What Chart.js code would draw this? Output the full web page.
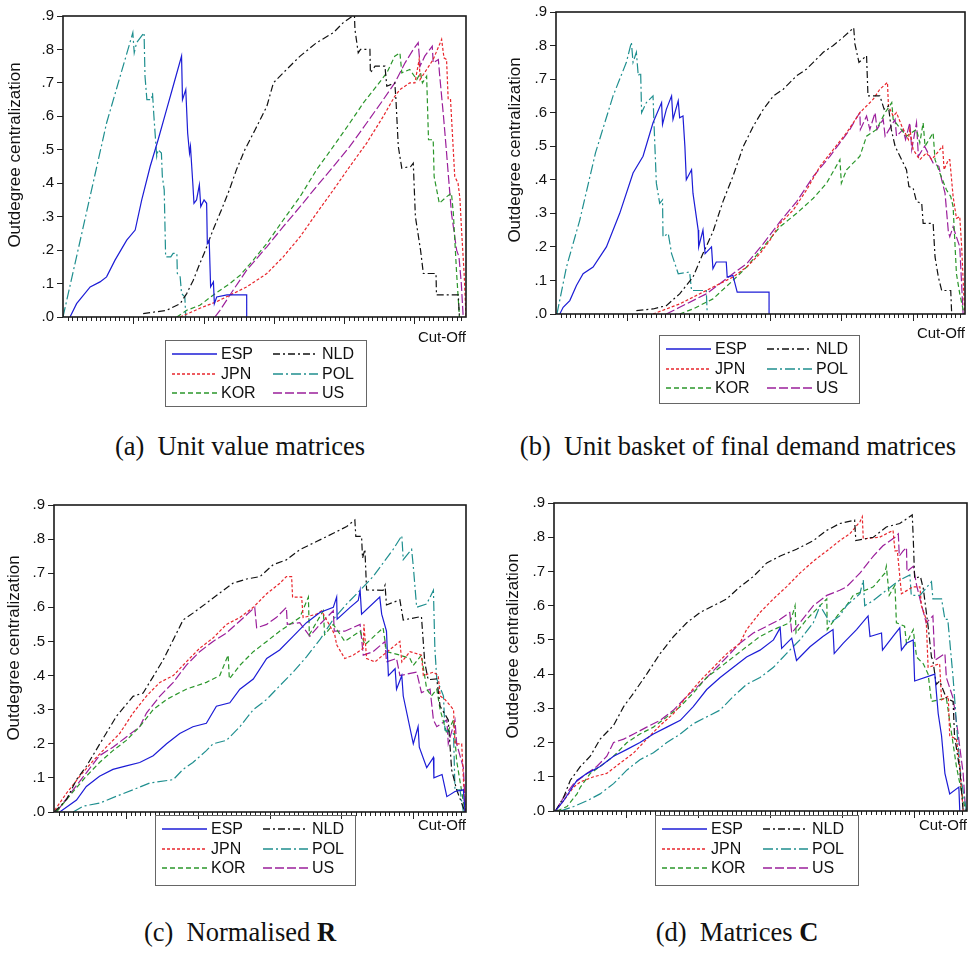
<!DOCTYPE html>
<html>
<head>
<meta charset="utf-8">
<script src="https://cdn.jsdelivr.net/npm/chart.js@4.4.1/dist/chart.umd.min.js"></script>
<style>
  body { margin: 0; background: #fff; width: 968px; height: 962px; position: relative; overflow: hidden; }
  .panel { position: absolute; width: 484px; height: 420px; }
  .cap { position: absolute; text-align: center; font-family: "Liberation Serif", "Times New Roman", serif; font-size: 26.5px; color: #111; white-space: nowrap; }
</style>
</head>
<body>
<div class="panel" style="left:0;top:0"><canvas id="chartA" width="484" height="420"></canvas></div>
<div class="panel" style="left:484px;top:0"><canvas id="chartB" width="484" height="420"></canvas></div>
<div class="panel" style="left:0;top:480px"><canvas id="chartC" width="484" height="420"></canvas></div>
<div class="panel" style="left:484px;top:480px"><canvas id="chartD" width="484" height="420"></canvas></div>

<div class="cap" style="left:0;width:480px;top:431px">(a)&nbsp; Unit value matrices</div>
<div class="cap" style="left:496px;width:484px;top:431px">(b)&nbsp; Unit basket of final demand matrices</div>
<div class="cap" style="left:0;width:480px;top:917px">(c)&nbsp; Normalised <b>R</b></div>
<div class="cap" style="left:495px;width:484px;top:917px">(d)&nbsp; Matrices <b>C</b></div>

<script>
// countries, in legend order (row by row, two columns)
const countries = ['ESP', 'NLD', 'JPN', 'POL', 'KOR', 'US'];
const yTicks = [0, 0.1, 0.2, 0.3, 0.4, 0.5, 0.6, 0.7, 0.8, 0.9];
const xMax = 86;
const xTicks = [];
for (let i = 1; i < xMax; i++) xTicks.push(i);
const majorTicks = [15, 30, 45, 60, 75];

// (a) unit value matrices  -- [cut-off, centralization]
const espA = [[1.5,0],[2.9,0.04],[5.8,0.09],[7.9,0.105],[9.3,0.12],[11.1,0.17],[13.6,0.23],[15.4,0.26],[16.8,0.35],[18.6,0.45],[20.3,0.53],[22.1,0.62],[23.5,0.69],[25.3,0.78],[25.5,0.65],[26.2,0.68],[26.6,0.55],[27.0,0.49],[27.2,0.51],[27.7,0.40],[27.95,0.34],[28.5,0.35],[29.1,0.395],[29.4,0.33],[30.1,0.35],[30.65,0.34],[30.8,0.22],[31.2,0.23],[31.5,0.09],[32.1,0.105],[32.3,0.04],[32.8,0.06],[35.0,0.066],[39.2,0.066],[39.2,0]];
const nldA = [[17.1,0.01],[22.1,0.02],[25.0,0.04],[26.4,0.07],[27.8,0.11],[29.2,0.16],[30.4,0.20],[32.0,0.26],[33.8,0.32],[35.5,0.38],[37.0,0.44],[38.8,0.50],[41.0,0.56],[43.5,0.63],[44.9,0.70],[47.7,0.74],[50.6,0.78],[54.1,0.82],[57.7,0.85],[59.8,0.88],[61.8,0.90],[62.2,0.90],[62.3,0.86],[63.0,0.79],[63.5,0.80],[65.5,0.80],[65.6,0.73],[66.6,0.75],[68.7,0.75],[69.1,0.69],[70.8,0.70],[71.05,0.65],[71.55,0.51],[72.3,0.445],[74.2,0.45],[74.75,0.46],[75.2,0.30],[76.3,0.20],[76.9,0.13],[79.6,0.13],[79.7,0.066],[84.35,0.066],[84.6,0]];
const jpnA = [[25.0,0],[29.2,0.026],[32.8,0.046],[36.3,0.07],[39.2,0.09],[43.5,0.13],[47.0,0.18],[50.6,0.24],[54.1,0.31],[57.7,0.38],[61.2,0.45],[64.8,0.52],[68.35,0.60],[70.8,0.66],[71.9,0.68],[74.0,0.70],[75.1,0.70],[76.0,0.77],[76.2,0.71],[77.6,0.74],[79.0,0.77],[80.8,0.83],[81.3,0.775],[81.85,0.77],[82.2,0.65],[82.7,0.65],[83.6,0.42],[84.3,0.40],[84.7,0.355],[85.05,0.26],[85.6,0.13],[86.0,0]];
const polA = [[0,0],[9.3,0.58],[14.9,0.85],[15.2,0.79],[15.7,0.82],[17.3,0.85],[17.5,0.72],[17.9,0.65],[18.9,0.65],[19.1,0.67],[19.4,0.60],[20.0,0.48],[20.3,0.50],[21.0,0.49],[21.2,0.42],[21.6,0.38],[21.9,0.18],[23.0,0.18],[23.5,0.19],[24.3,0.19],[24.4,0.13],[25.0,0.12],[25.3,0.07],[26.0,0.06],[26.2,0]];
const korA = [[24.3,0],[26.4,0.02],[29.2,0.035],[32.1,0.066],[35.6,0.1],[37.8,0.125],[40.6,0.17],[43.5,0.22],[47.0,0.29],[50.6,0.36],[54.1,0.44],[57.7,0.51],[61.2,0.58],[64.1,0.64],[66.9,0.69],[69.1,0.73],[70.8,0.78],[71.9,0.79],[72.3,0.73],[74.0,0.74],[75.5,0.71],[76.3,0.73],[76.7,0.70],[77.6,0.72],[78.0,0.53],[79.0,0.53],[79.2,0.42],[80.3,0.34],[81.9,0.36],[82.9,0.37],[83.3,0.31],[84.0,0.13],[84.6,0]];
const usA = [[32.4,0],[33.5,0.02],[36.3,0.08],[39.2,0.14],[43.5,0.21],[47.0,0.27],[50.6,0.33],[54.1,0.39],[57.7,0.45],[61.2,0.51],[64.8,0.58],[68.35,0.65],[70.8,0.70],[73.0,0.76],[74.75,0.80],[75.8,0.82],[76.2,0.75],[77.2,0.78],[78.8,0.81],[79.0,0.76],[80.1,0.77],[80.4,0.72],[81.2,0.60],[81.8,0.50],[82.2,0.43],[82.9,0.31],[84.0,0.20],[84.5,0.18],[85.0,0.10],[85.4,0]];

// (b) unit basket of final demand matrices
const espB = [[0.8,0],[1.5,0.02],[2.9,0.04],[4.3,0.085],[5.7,0.12],[7.8,0.14],[10.6,0.2],[13.4,0.3],[16.2,0.42],[18.3,0.47],[20.4,0.57],[22.2,0.63],[22.4,0.565],[23.2,0.61],[24.3,0.65],[24.6,0.58],[25.7,0.635],[26.0,0.585],[26.7,0.59],[27.1,0.50],[27.4,0.40],[28.5,0.43],[28.8,0.36],[29.2,0.32],[29.9,0.25],[30.0,0.20],[30.9,0.25],[31.35,0.18],[32.7,0.20],[33.0,0.135],[33.7,0.155],[35.8,0.155],[36.0,0.11],[37.2,0.115],[38.1,0.065],[44.8,0.065],[44.8,0]];
const nldB = [[16.9,0.01],[20.4,0.015],[23.2,0.025],[26.0,0.06],[28.8,0.11],[30.9,0.18],[33.0,0.245],[35.1,0.335],[37.2,0.41],[39.4,0.50],[41.5,0.56],[43.6,0.61],[45.7,0.65],[47.8,0.67],[50.6,0.71],[52.7,0.73],[54.1,0.75],[56.2,0.78],[58.3,0.80],[60.4,0.825],[62.6,0.853],[62.85,0.805],[63.7,0.75],[65.3,0.77],[65.6,0.65],[68.1,0.65],[69.0,0.61],[69.9,0.62],[70.5,0.55],[71.3,0.50],[73.7,0.43],[74.2,0.38],[75.1,0.375],[75.8,0.335],[76.9,0.33],[77.2,0.27],[79.3,0.27],[79.7,0.17],[80.4,0.11],[81.1,0.07],[83.0,0.07],[83.2,0]];
const jpnB = [[20.4,0],[23.2,0.015],[26.0,0.03],[28.8,0.05],[31.6,0.07],[34.4,0.09],[37.2,0.11],[40.1,0.14],[42.9,0.18],[45.0,0.22],[47.1,0.27],[49.9,0.31],[52.7,0.37],[55.5,0.44],[58.3,0.49],[61.1,0.54],[63.9,0.60],[66.7,0.64],[68.1,0.67],[69.7,0.69],[69.9,0.62],[70.9,0.59],[71.6,0.60],[72.7,0.56],[74.1,0.52],[74.4,0.55],[75.1,0.49],[76.5,0.46],[77.9,0.48],[79.0,0.46],[81.3,0.50],[81.6,0.43],[82.5,0.46],[82.8,0.46],[83.5,0.35],[84.2,0.285],[84.9,0.29],[85.3,0.20],[85.8,0.04],[86.0,0]];
const polB = [[0.2,0],[2.2,0.14],[5.0,0.28],[8.3,0.48],[12.0,0.65],[14.8,0.75],[15.85,0.81],[16.2,0.75],[16.9,0.78],[17.3,0.71],[17.8,0.72],[18.0,0.60],[19.0,0.63],[20.4,0.65],[20.6,0.57],[21.1,0.39],[21.8,0.33],[22.4,0.34],[22.5,0.23],[23.6,0.24],[24.3,0.18],[25.7,0.12],[28.1,0.125],[28.5,0.07],[31.6,0.07],[31.8,0]];
const korB = [[26.0,0],[28.8,0.015],[33.0,0.045],[37.2,0.10],[40.1,0.14],[43.6,0.20],[47.1,0.26],[50.6,0.30],[54.1,0.345],[56.9,0.39],[59.7,0.46],[60.0,0.39],[61.1,0.43],[63.9,0.47],[65.3,0.53],[67.4,0.55],[69.2,0.60],[70.6,0.63],[70.9,0.58],[72.0,0.56],[73.7,0.53],[75.8,0.55],[76.5,0.51],[77.2,0.57],[77.6,0.50],[79.3,0.54],[79.7,0.46],[80.7,0.42],[82.1,0.37],[83.0,0.35],[83.5,0.32],[84.2,0.12],[84.9,0.06],[85.8,0]];
const usB = [[23.2,0],[26.0,0.02],[31.6,0.06],[37.2,0.12],[40.1,0.15],[43.6,0.21],[47.1,0.275],[50.6,0.335],[54.1,0.41],[57.6,0.47],[59.7,0.51],[61.8,0.55],[63.2,0.585],[63.9,0.60],[64.0,0.55],[65.3,0.59],[66.0,0.55],[67.1,0.60],[67.5,0.55],[68.8,0.58],[69.2,0.53],[71.3,0.58],[71.6,0.53],[73.0,0.55],[73.5,0.52],[74.4,0.57],[74.8,0.49],[75.8,0.57],[76.2,0.47],[77.5,0.50],[79.3,0.45],[80.5,0.44],[81.1,0.40],[81.8,0.36],[82.5,0.245],[82.8,0.23],[83.5,0.26],[84.9,0.20],[85.6,0]];

// (c) normalised R
const espC = [[1.2,0],[4.7,0.035],[6.75,0.075],[9.5,0.105],[12.3,0.125],[15.1,0.135],[17.9,0.145],[20.7,0.165],[23.5,0.20],[26.25,0.23],[29.0,0.25],[31.8,0.26],[33.9,0.31],[36.7,0.32],[38.8,0.36],[41.6,0.39],[44.4,0.45],[47.1,0.475],[49.9,0.515],[52.7,0.555],[55.5,0.585],[58.3,0.60],[59.0,0.63],[59.1,0.565],[61.8,0.60],[63.5,0.62],[63.9,0.65],[64.2,0.58],[68.0,0.63],[68.4,0.58],[69.4,0.53],[69.8,0.40],[71.2,0.42],[71.5,0.36],[72.6,0.40],[72.9,0.34],[75.0,0.20],[76.0,0.25],[76.25,0.19],[77.8,0.13],[79.2,0.16],[79.3,0.10],[81.0,0.11],[82.0,0.045],[83.7,0.06],[85.45,0.065],[85.8,0]];
const nldC = [[0.1,0],[2.6,0.036],[4.7,0.095],[6.75,0.134],[8.85,0.183],[10.9,0.231],[13.0,0.28],[16.5,0.339],[18.6,0.349],[20.7,0.397],[22.8,0.446],[24.9,0.505],[26.95,0.563],[29.0,0.583],[31.8,0.612],[34.6,0.642],[37.4,0.671],[40.2,0.683],[43.0,0.69],[45.75,0.725],[48.5,0.739],[51.3,0.769],[54.8,0.793],[58.3,0.817],[61.1,0.837],[62.8,0.856],[63.0,0.808],[64.2,0.808],[64.4,0.744],[64.9,0.77],[65.25,0.651],[68.7,0.65],[69.1,0.665],[69.4,0.607],[72.2,0.622],[72.9,0.563],[76.7,0.573],[77.4,0.437],[78.1,0.388],[79.9,0.39],[80.6,0.31],[82.3,0.27],[83.0,0.124],[84.05,0.065],[85.8,0]];
const jpnC = [[0.14,0.005],[2.6,0.055],[5.4,0.105],[8.15,0.15],[10.9,0.19],[13.7,0.23],[16.5,0.29],[19.3,0.34],[22.1,0.38],[24.9,0.40],[27.6,0.44],[30.4,0.48],[33.2,0.51],[36.0,0.55],[38.8,0.57],[41.6,0.60],[44.4,0.64],[47.1,0.67],[48.5,0.69],[49.6,0.69],[49.8,0.63],[51.7,0.63],[52.0,0.57],[54.8,0.58],[55.85,0.59],[58.6,0.52],[59.0,0.49],[60.7,0.45],[62.5,0.46],[64.55,0.48],[64.7,0.55],[65.25,0.45],[67.0,0.44],[68.7,0.46],[72.2,0.50],[72.6,0.44],[74.3,0.47],[76.7,0.46],[77.1,0.40],[79.2,0.41],[80.2,0.40],[80.6,0.34],[81.6,0.33],[83.4,0.30],[83.7,0.20],[85.1,0.20],[85.8,0]];
const polC = [[4.0,0],[6.05,0.017],[9.5,0.026],[13.0,0.046],[16.5,0.065],[20.0,0.085],[24.9,0.095],[26.95,0.125],[29.0,0.145],[31.8,0.18],[33.2,0.20],[36.0,0.21],[38.8,0.25],[41.6,0.30],[44.4,0.33],[47.1,0.37],[49.9,0.41],[52.7,0.455],[55.5,0.505],[58.3,0.565],[61.1,0.61],[63.9,0.65],[66.6,0.69],[68.7,0.73],[70.8,0.77],[72.6,0.81],[72.9,0.74],[74.65,0.77],[75.0,0.72],[75.7,0.60],[77.8,0.61],[79.2,0.65],[79.5,0.48],[79.9,0.39],[81.3,0.34],[81.6,0.24],[83.4,0.23],[83.7,0.065],[84.75,0.065],[85.45,0]];
const korC = [[0.5,0],[4.0,0.06],[6.75,0.105],[9.5,0.145],[12.3,0.18],[15.1,0.21],[17.9,0.25],[20.7,0.30],[23.5,0.33],[27.6,0.36],[31.8,0.38],[34.6,0.40],[36.35,0.46],[36.6,0.39],[38.8,0.43],[41.6,0.47],[44.4,0.50],[47.1,0.53],[49.2,0.55],[51.3,0.57],[53.1,0.63],[53.3,0.52],[56.2,0.59],[56.5,0.52],[58.3,0.55],[60.7,0.50],[63.9,0.53],[64.9,0.49],[68.7,0.54],[69.4,0.47],[72.2,0.46],[74.3,0.45],[75.0,0.43],[76.7,0.46],[77.8,0.36],[78.8,0.34],[79.9,0.36],[80.6,0.30],[82.0,0.23],[83.4,0.27],[84.05,0.15],[85.1,0.06],[85.8,0]];
const usC = [[0.5,0],[4.0,0.065],[6.75,0.115],[9.5,0.165],[12.3,0.19],[15.1,0.22],[17.9,0.25],[19.3,0.29],[22.1,0.34],[24.9,0.38],[27.6,0.43],[30.4,0.47],[33.2,0.50],[36.0,0.525],[38.8,0.56],[41.9,0.60],[42.3,0.54],[44.4,0.55],[46.4,0.57],[48.5,0.60],[48.7,0.55],[51.3,0.555],[53.4,0.515],[55.5,0.55],[58.3,0.59],[58.5,0.53],[60.7,0.53],[63.9,0.55],[64.55,0.46],[66.6,0.47],[69.1,0.50],[69.4,0.44],[71.5,0.45],[72.2,0.40],[75.7,0.41],[76.7,0.35],[78.5,0.36],[79.2,0.27],[79.9,0.25],[82.0,0.27],[82.3,0.20],[83.7,0.27],[84.05,0.20],[85.45,0.13],[85.9,0]];

// (d) matrices C
const espD = [[0.3,0],[2.0,0.03],[4.8,0.09],[6.9,0.11],[9.6,0.13],[12.4,0.16],[15.2,0.18],[17.9,0.20],[20.7,0.225],[23.5,0.245],[26.3,0.265],[29.0,0.305],[31.8,0.355],[34.6,0.39],[37.35,0.42],[40.1,0.45],[42.9,0.47],[45.7,0.50],[47.1,0.535],[47.4,0.475],[49.5,0.505],[50.5,0.44],[53.3,0.48],[56.0,0.51],[58.1,0.53],[58.35,0.46],[60.2,0.49],[63.0,0.53],[65.4,0.57],[65.8,0.51],[68.2,0.52],[68.4,0.47],[70.6,0.51],[72.0,0.535],[72.35,0.47],[73.4,0.49],[74.8,0.50],[75.1,0.38],[79.3,0.40],[80.0,0.285],[80.7,0.22],[81.4,0.11],[82.4,0.05],[84.3,0.07],[84.5,0]];
const nldD = [[0.3,0],[2.0,0.04],[3.4,0.09],[5.5,0.13],[7.55,0.16],[9.6,0.21],[11.0,0.23],[12.4,0.25],[14.5,0.305],[16.6,0.345],[19.3,0.40],[22.1,0.46],[24.9,0.51],[27.65,0.55],[30.4,0.58],[33.2,0.60],[36.0,0.62],[38.7,0.655],[41.5,0.685],[44.3,0.725],[47.1,0.745],[50.5,0.765],[54.0,0.79],[56.8,0.82],[59.5,0.84],[62.6,0.85],[62.85,0.79],[66.5,0.80],[69.2,0.83],[72.0,0.84],[74.6,0.865],[74.8,0.80],[75.1,0.68],[76.3,0.685],[76.9,0.65],[77.9,0.54],[78.6,0.45],[78.9,0.44],[79.6,0.37],[80.3,0.38],[81.7,0.33],[83.1,0.32],[83.4,0.22],[84.5,0.12],[85.2,0]];
const jpnD = [[0.3,0],[2.0,0.03],[4.1,0.07],[5.5,0.085],[8.25,0.10],[11.0,0.11],[13.8,0.14],[16.6,0.17],[19.3,0.21],[22.1,0.25],[24.9,0.285],[27.65,0.335],[30.4,0.38],[33.2,0.42],[36.0,0.46],[38.7,0.49],[40.1,0.53],[42.9,0.58],[45.7,0.62],[48.4,0.655],[51.2,0.695],[54.0,0.73],[56.8,0.76],[59.5,0.79],[61.6,0.81],[63.7,0.845],[64.2,0.86],[64.4,0.795],[67.8,0.80],[70.6,0.82],[71.0,0.76],[71.5,0.76],[72.35,0.635],[74.8,0.655],[76.2,0.655],[76.5,0.60],[77.5,0.56],[77.9,0.42],[80.3,0.43],[80.7,0.325],[82.1,0.335],[82.4,0.22],[83.8,0.21],[84.5,0.13],[85.2,0]];
const polD = [[1.3,0],[4.1,0.013],[6.9,0.03],[9.6,0.05],[12.4,0.08],[15.2,0.12],[17.9,0.15],[20.7,0.17],[23.5,0.20],[26.3,0.225],[29.0,0.255],[31.8,0.275],[34.6,0.295],[37.35,0.335],[40.1,0.37],[42.9,0.39],[45.7,0.42],[48.4,0.46],[51.2,0.50],[54.0,0.55],[55.4,0.60],[57.5,0.55],[59.5,0.57],[60.9,0.60],[63.7,0.635],[64.4,0.675],[64.7,0.60],[66.5,0.615],[69.2,0.645],[72.0,0.675],[74.1,0.69],[74.4,0.63],[76.2,0.63],[78.6,0.67],[78.9,0.62],[80.7,0.62],[81.4,0.56],[82.0,0.56],[83.1,0.39],[84.1,0.20],[84.8,0.09],[85.9,0]];
const korD = [[0.6,0],[2.7,0.013],[4.8,0.05],[5.5,0.07],[7.55,0.11],[9.6,0.13],[12.4,0.16],[15.2,0.20],[17.9,0.225],[20.7,0.245],[23.5,0.275],[26.3,0.305],[29.0,0.345],[31.8,0.39],[34.6,0.42],[37.35,0.45],[40.1,0.48],[42.9,0.51],[45.7,0.53],[49.1,0.55],[49.8,0.58],[50.2,0.60],[50.4,0.52],[52.6,0.56],[55.4,0.60],[56.8,0.62],[56.9,0.53],[59.5,0.58],[60.9,0.60],[62.3,0.63],[66.5,0.655],[68.9,0.695],[69.2,0.715],[69.8,0.63],[71.0,0.66],[71.3,0.55],[73.0,0.54],[73.4,0.49],[74.8,0.53],[75.5,0.45],[76.9,0.43],[77.9,0.40],[78.6,0.32],[81.7,0.33],[83.8,0.13],[84.8,0.06],[85.7,0]];
const usD = [[0.3,0],[2.0,0.04],[4.1,0.08],[6.9,0.11],[8.9,0.13],[11.0,0.16],[12.4,0.20],[14.5,0.21],[16.6,0.225],[19.3,0.245],[22.1,0.265],[24.9,0.295],[27.65,0.335],[30.4,0.37],[33.2,0.41],[36.0,0.45],[38.7,0.49],[41.5,0.52],[44.3,0.54],[47.1,0.56],[49.1,0.58],[49.5,0.52],[51.2,0.55],[54.0,0.60],[56.8,0.63],[59.5,0.645],[60.9,0.655],[63.7,0.695],[66.5,0.745],[68.5,0.775],[71.0,0.80],[71.7,0.81],[71.9,0.745],[72.7,0.76],[73.4,0.77],[73.5,0.70],[74.8,0.715],[75.5,0.66],[76.2,0.62],[77.5,0.55],[78.9,0.57],[79.3,0.44],[81.4,0.46],[81.7,0.39],[83.1,0.33],[84.1,0.23],[85.2,0.11],[85.7,0]];

// line styles per country
const styles = {
  ESP: { color: '#1c1cd6', dash: [] },
  NLD: { color: '#111111', dash: [7, 3, 2, 3] },
  JPN: { color: '#e8262c', dash: [3, 2] },
  POL: { color: '#1f8f8f', dash: [10, 3, 2, 3] },
  KOR: { color: '#2a962a', dash: [5, 3] },
  US:  { color: '#9b1f9b', dash: [9, 3] }
};

const sansFont = '"Liberation Sans", Arial, sans-serif';

// axis frame, x tick marks, y title and the boxed legend
const framePlugin = {
  id: 'frame',
  afterDraw(chart, args, opts) {
    const ctx = chart.ctx;
    const a = chart.chartArea;
    const x = chart.scales.x;
    ctx.save();
    ctx.strokeStyle = '#222';
    ctx.lineWidth = 1;
    ctx.beginPath();
    xTicks.forEach(v => {
      const px = Math.round(x.getPixelForValue(v)) + 0.5;
      const len = majorTicks.includes(v) ? 7 : 4;
      ctx.moveTo(px, a.bottom);
      ctx.lineTo(px, a.bottom + len);
    });
    ctx.stroke();

    ctx.lineWidth = 1.6;
    ctx.strokeStyle = '#1a1a1a';
    ctx.strokeRect(a.left, a.top, a.right - a.left, a.bottom - a.top);

    // rotated axis title
    ctx.save();
    ctx.translate(opts.yTitle.x, opts.yTitle.y);
    ctx.rotate(-Math.PI / 2);
    ctx.font = '17px ' + sansFont;
    ctx.fillStyle = '#111';
    ctx.textAlign = 'center';
    ctx.textBaseline = 'middle';
    ctx.fillText('Outdegree centralization', 0, 0);
    ctx.restore();

    const lg = opts.legend;
    ctx.lineWidth = 1;
    ctx.strokeStyle = '#666';
    ctx.strokeRect(lg.x + 0.5, lg.y + 0.5, lg.w, lg.h);
    ctx.font = '16px ' + sansFont;
    ctx.textBaseline = 'middle';
    chart.data.datasets.forEach((ds, i) => {
      const col = i % 2, row = Math.floor(i / 2);
      const x0 = lg.x + 7 + col * 101;
      const yy = Math.round(lg.y + 14 + row * 19.5);
      ctx.save();
      ctx.strokeStyle = ds.borderColor;
      ctx.lineWidth = 1.5;
      ctx.setLineDash(ds.borderDash);
      ctx.beginPath();
      ctx.moveTo(x0, yy);
      ctx.lineTo(x0 + 45, yy);
      ctx.stroke();
      ctx.restore();
      ctx.fillStyle = '#111';
      ctx.fillText(ds.label, x0 + 49, yy + 1);
    });
    ctx.restore();
  }
};

function makePanel(id, series, area, legend, yTitle, cutOffPad) {
  const W = 484, H = 420;
  const datasets = countries.map((c, i) => ({
    label: c,
    data: series[i].map(p => ({ x: p[0], y: p[1] })),
    borderColor: styles[c].color,
    borderDash: styles[c].dash,
    borderWidth: 1.2,
    pointRadius: 0,
    tension: 0,
    fill: false
  }));
  return new Chart(document.getElementById(id), {
    type: 'line',
    data: { datasets: datasets },
    options: {
      responsive: false,
      animation: false,
      devicePixelRatio: 1,
      layout: {
        autoPadding: false,
        padding: { left: 0, top: area.top, right: W - area.right, bottom: 0 }
      },
      plugins: {
        legend: { display: false },
        tooltip: { enabled: false },
        frame: { legend: legend, yTitle: yTitle }
      },
      scales: {
        x: {
          type: 'linear',
          min: 0,
          max: xMax,
          afterFit: s => { s.height = H - area.bottom; },
          ticks: { display: false },
          grid: { display: false },
          border: { display: false },
          title: {
            display: true,
            text: 'Cut-Off',
            align: 'end',
            color: '#111',
            font: { family: sansFont, size: 15 },
            padding: { top: 0, bottom: cutOffPad }
          }
        },
        y: {
          min: 0,
          max: 0.9,
          afterFit: s => { s.width = area.left; },
          afterBuildTicks: s => { s.ticks = yTicks.map(v => ({ value: v })); },
          ticks: {
            color: '#111',
            padding: 3,
            font: { family: sansFont, size: 15 },
            callback: v => v.toFixed(1).replace(/^0/, '')
          },
          grid: { drawOnChartArea: false, tickLength: 6, tickColor: '#222', color: '#222' },
          border: { display: false },
          title: { display: false }
        }
      }
    },
    plugins: [framePlugin]
  });
}

makePanel('chartA', [espA, nldA, jpnA, polA, korA, usA],
  { left: 63, top: 16, right: 466, bottom: 317 }, { x: 165, y: 340, w: 201, h: 66 }, { x: 15, y: 155 }, 73);
makePanel('chartB', [espB, nldB, jpnB, polB, korB, usB],
  { left: 72, top: 8, right: 481, bottom: 314 }, { x: 175, y: 335, w: 200, h: 68 }, { x: 31, y: 150 }, 77);
makePanel('chartC', [espC, nldC, jpnC, polC, korC, usC],
  { left: 54, top: 25, right: 466, bottom: 332 }, { x: 155, y: 335, w: 200, h: 70 }, { x: 14, y: 168 }, 65);
makePanel('chartD', [espD, nldD, jpnD, polD, korD, usD],
  { left: 70, top: 23, right: 483, bottom: 331 }, { x: 171, y: 335, w: 203, h: 70 }, { x: 29, y: 166 }, 65);
</script>
</body>
</html>
